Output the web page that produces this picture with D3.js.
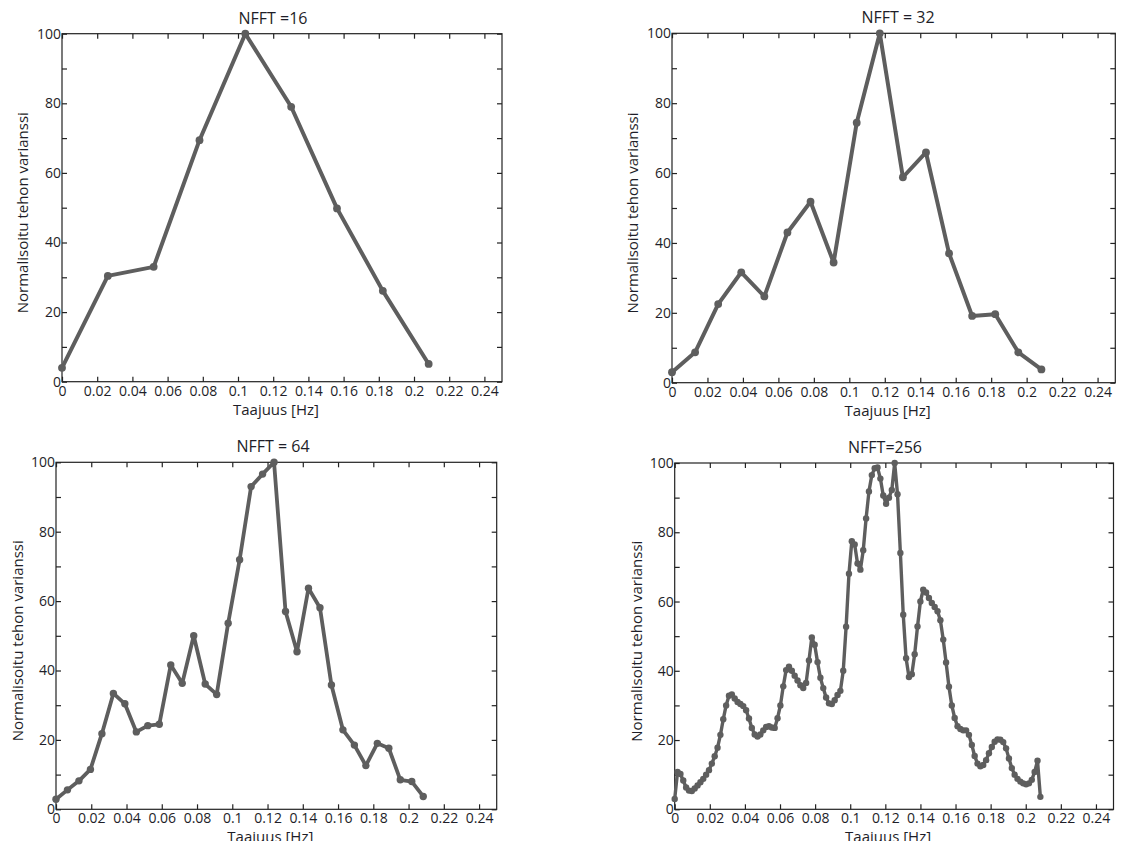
<!DOCTYPE html>
<html>
<head>
<meta charset="utf-8">
<script src="https://cdn.jsdelivr.net/npm/d3@7"></script>
<style>
  html, body { margin: 0; padding: 0; background: #fff; }
  svg { display: block; }
  text { font-family: "Open Sans", "Noto Sans", sans-serif; fill: #1e1e28; }
</style>
</head>
<body>
<svg id="chart" width="1125" height="841"></svg>
<script>
// Sampling rate of the series (one sample every 2.4 s)
const sampleRate = 1 / 2.4;

// Normalised power spectra (0..100) for each FFT length, bin 0 .. NFFT/2
const nfft16 = [4.0, 30.4, 33.0, 69.4, 100, 79.0, 49.8, 26.1, 5.1];

const nfft32 = [3.0, 8.7, 22.5, 31.6, 24.7, 43.0, 51.8, 34.4, 74.4, 100,
                58.8, 65.9, 37.0, 19.1, 19.6, 8.7, 3.8];

const nfft64 = [2.9, 5.6, 8.2, 11.5, 21.8, 33.4, 30.4, 22.3, 24.1, 24.5,
                41.6, 36.3, 50.0, 36.1, 33.1, 53.6, 71.9, 93.0, 96.6, 100,
                57.0, 45.4, 63.7, 58.1, 35.8, 22.9, 18.5, 12.6, 19.0, 17.6,
                8.5, 8.0, 3.7];

const nfft256 = [3.0, 10.8, 10.2, 8.3, 6.3, 5.4, 5.3, 6.0, 6.9, 7.8,
                 8.8, 10.0, 11.3, 13.2, 15.3, 17.8, 21.5, 26.0, 30.0, 32.8,
                 33.2, 32.0, 31.0, 30.4, 29.8, 28.6, 26.2, 23.5, 21.6, 21.0,
                 21.6, 22.8, 23.8, 24.0, 23.6, 23.5, 26.3, 30.0, 35.5, 40.2,
                 41.2, 40.0, 38.6, 37.2, 35.8, 35.0, 36.5, 43.0, 49.6, 47.5,
                 42.5, 38.0, 35.0, 32.3, 30.6, 30.4, 31.5, 33.0, 34.2, 40.0,
                 52.7, 68.0, 77.4, 76.5, 71.0, 69.2, 74.8, 84.0, 91.8, 96.5,
                 98.5, 98.7, 95.5, 90.6, 88.2, 90.0, 92.2, 100, 91.0, 74.0,
                 56.2, 43.6, 38.2, 39.0, 44.8, 52.8, 60.0, 63.4, 62.6, 61.0,
                 59.6, 58.4, 57.2, 54.6, 49.0, 42.4, 35.4, 30.0, 26.4, 24.0,
                 23.2, 22.8, 22.8, 21.5, 18.6, 15.4, 13.2, 12.4, 12.8, 14.2,
                 16.2, 18.0, 19.5, 20.2, 20.1, 19.4, 17.6, 14.7, 11.9, 10.0,
                 8.8, 8.0, 7.5, 7.2, 7.5, 8.5, 10.8, 14.0, 3.6];

// Axis ticks and their labels
const xTickValues = [0, 0.02, 0.04, 0.06, 0.08, 0.1, 0.12, 0.14, 0.16, 0.18, 0.2, 0.22, 0.24];
const xTickLabels = ["0", "0.02", "0.04", "0.06", "0.08", "0.1", "0.12", "0.14", "0.16", "0.18", "0.2", "0.22", "0.24"];
const yTickValues = [0, 10, 20, 30, 40, 50, 60, 70, 80, 90, 100];
const yTickLabels = ["0", "", "20", "", "40", "", "60", "", "80", "", "100"];

const titles = ["NFFT =16", "NFFT = 32", "NFFT = 64", "NFFT=256"];
const xTitle = "Taajuus [Hz]";
const yTitle = "Normalisoitu tehon varianssi";

// Panel frames and text anchors
const panels = [
  { nfft: 16,  values: nfft16,  title: titles[0], box: { l: 62,    r: 502,    t: 33.7, b: 381.7 }, titleX: 273, ylabX: 23, lw: 4.0, mr: 3.9 },
  { nfft: 32,  values: nfft32,  title: titles[1], box: { l: 672,   r: 1115.3, t: 33.3, b: 382.7 }, titleX: 898, ylabX: 633, lw: 4.0, mr: 3.9 },
  { nfft: 64,  values: nfft64,  title: titles[2], box: { l: 56,    r: 496.7,  t: 462.3, b: 809.3 }, titleX: 273, ylabX: 18, lw: 3.8, mr: 3.7 },
  { nfft: 256, values: nfft256, title: titles[3], box: { l: 674.7, r: 1113.5, t: 463,  b: 809.3 }, titleX: 885, ylabX: 637, lw: 3.4, mr: 3.2 }
];

const lineColor = "#5e5e5e";
const svg = d3.select("#chart");

panels.forEach(p => {
  const { l, r, t, b } = p.box;
  const x = d3.scaleLinear().domain([0, 0.25]).range([l, r]);
  const y = d3.scaleLinear().domain([0, 100]).range([b, t]);
  const g = svg.append("g");

  // frequency of each FFT bin
  const pts = p.values.map((v, k) => ({ f: k * sampleRate / p.nfft, v }));

  // frame
  g.append("rect")
    .attr("x", l).attr("y", t).attr("width", r - l).attr("height", b - t)
    .attr("fill", "none").attr("stroke", "#222").attr("stroke-width", 1.2);

  const styleAxis = sel => {
    sel.select(".domain").remove();
    sel.selectAll(".tick line").attr("stroke", "#222").attr("stroke-width", 1.2);
    sel.selectAll(".tick text").attr("fill", "#1e1e28")
      .style("font-family", '"Open Sans", "Noto Sans", sans-serif');
  };

  // bottom axis with labels, ticks pointing inward
  g.append("g").attr("transform", `translate(0,${b})`)
    .call(d3.axisBottom(x).tickValues(xTickValues)
      .tickFormat((d, i) => xTickLabels[i]).tickSizeInner(-5).tickSizeOuter(0).tickPadding(4))
    .call(styleAxis)
    .call(s => s.selectAll(".tick text").style("font-size", "14px").attr("dy", "0.72em"));

  // top axis ticks
  g.append("g").attr("transform", `translate(0,${t})`)
    .call(d3.axisTop(x).tickValues(xTickValues).tickFormat("").tickSizeInner(-5).tickSizeOuter(0))
    .call(styleAxis);

  // left axis with labels
  g.append("g").attr("transform", `translate(${l},0)`)
    .call(d3.axisLeft(y).tickValues(yTickValues)
      .tickFormat((d, i) => yTickLabels[i]).tickSizeInner(-5).tickSizeOuter(0).tickPadding(1))
    .call(styleAxis)
    .call(s => s.selectAll(".tick text").style("font-size", "14px"));

  // right axis ticks
  g.append("g").attr("transform", `translate(${r},0)`)
    .call(d3.axisRight(y).tickValues(yTickValues).tickFormat("").tickSizeInner(-5).tickSizeOuter(0))
    .call(styleAxis);

  // spectrum line
  const line = d3.line().x(d => x(d.f)).y(d => y(d.v));
  g.append("path").datum(pts)
    .attr("d", line)
    .attr("fill", "none")
    .attr("stroke", lineColor)
    .attr("stroke-width", p.lw)
    .attr("stroke-linejoin", "round")
    .attr("stroke-linecap", "round");

  // bin markers
  g.selectAll("circle.pt").data(pts).join("circle")
    .attr("class", "pt")
    .attr("cx", d => x(d.f)).attr("cy", d => y(d.v)).attr("r", p.mr)
    .attr("fill", lineColor);

  // title
  g.append("text")
    .attr("x", p.titleX).attr("y", t - 10)
    .attr("text-anchor", "middle")
    .style("font-size", "16px")
    .text(p.title);

  // x-axis title
  g.append("text")
    .attr("x", (l + r) / 2 - 6).attr("y", b + 33)
    .attr("text-anchor", "middle")
    .style("font-size", "15px")
    .text(xTitle);

  // y-axis title
  g.append("text")
    .attr("transform", `translate(${p.ylabX},${(t + b) / 2 + 5}) rotate(-90)`)
    .attr("text-anchor", "middle")
    .attr("dy", "0.35em")
    .style("font-size", "15px")
    .text(yTitle);
});
</script>
</body>
</html>
